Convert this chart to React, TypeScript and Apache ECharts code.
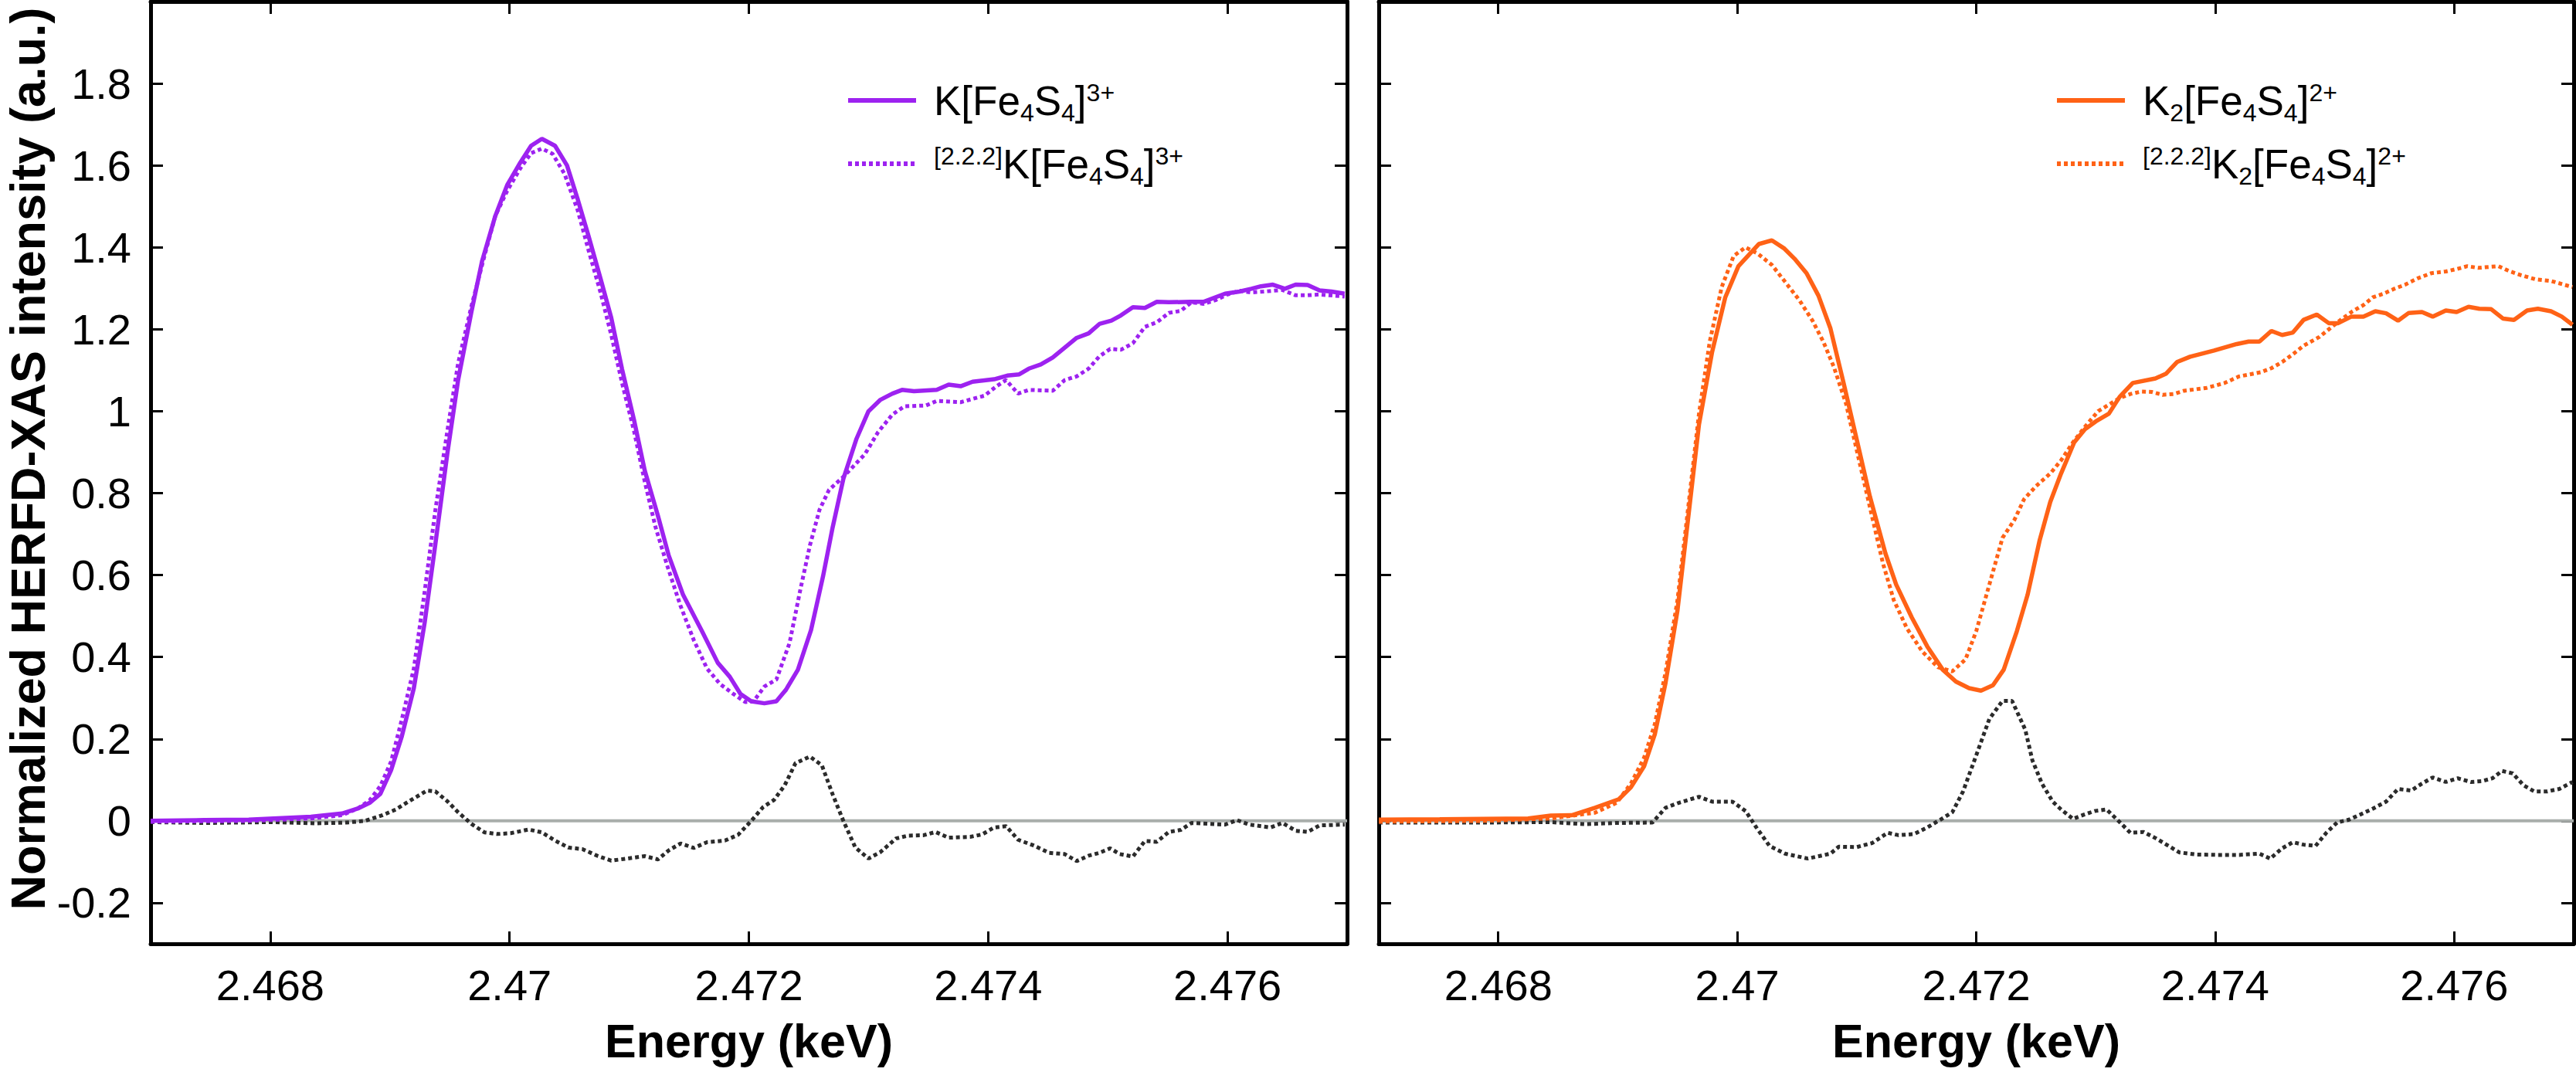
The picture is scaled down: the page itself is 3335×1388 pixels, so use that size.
import React, { useEffect, useRef } from "react";
import * as echarts from "echarts";

// ---------- data ----------
const X_MIN = 2.467;
const X_MAX = 2.477;
const Y_MIN = -0.3;
const Y_MAX = 2.0;
const X_TICKS = [2.468, 2.47, 2.472, 2.474, 2.476];
const Y_TICKS = [-0.2, 0, 0.2, 0.4, 0.6, 0.8, 1, 1.2, 1.4, 1.6, 1.8];

const LEFT_SOLID: [number, number][] = [
  [2.467, 0], [2.46745, 0.002], [2.46782, 0.003], [2.46834, 0.01], [2.4686, 0.018], [2.46873, 0.03],
  [2.46883, 0.044], [2.46892, 0.066], [2.46901, 0.124], [2.4691, 0.207], [2.4692, 0.324], [2.46929, 0.483],
  [2.46938, 0.676], [2.46948, 0.897], [2.46957, 1.076], [2.46968, 1.241], [2.46977, 1.366], [2.46988, 1.476],
  [2.46998, 1.552], [2.47009, 1.607], [2.47018, 1.648], [2.47027, 1.665], [2.47038, 1.648], [2.47048, 1.6],
  [2.47057, 1.517], [2.47066, 1.428], [2.47076, 1.324], [2.47085, 1.228], [2.47094, 1.103], [2.47104, 0.979],
  [2.47113, 0.855], [2.47124, 0.745], [2.47133, 0.648], [2.47145, 0.552], [2.47161, 0.462], [2.47174, 0.386],
  [2.47184, 0.352], [2.47193, 0.31], [2.47202, 0.292], [2.47213, 0.287], [2.47223, 0.292], [2.47231, 0.32],
  [2.47241, 0.369], [2.47252, 0.466], [2.47262, 0.597], [2.4727, 0.716], [2.47279, 0.835], [2.4729, 0.933],
  [2.473, 1.0], [2.4731, 1.028], [2.4732, 1.043], [2.47328, 1.052], [2.47338, 1.049], [2.47357, 1.052],
  [2.47367, 1.065], [2.47377, 1.061], [2.47387, 1.072], [2.47405, 1.078], [2.47416, 1.087], [2.47426, 1.09],
  [2.47434, 1.104], [2.47444, 1.114], [2.47454, 1.131], [2.47464, 1.155], [2.47474, 1.179], [2.47484, 1.19],
  [2.47493, 1.213], [2.47503, 1.221], [2.47511, 1.234], [2.47521, 1.254], [2.47531, 1.252], [2.47541, 1.267],
  [2.47551, 1.266], [2.47569, 1.267], [2.4758, 1.267], [2.47589, 1.277], [2.47598, 1.287], [2.4761, 1.292],
  [2.4762, 1.299], [2.47628, 1.305], [2.47638, 1.309], [2.47648, 1.299], [2.47657, 1.309], [2.47667, 1.308],
  [2.47677, 1.295], [2.47687, 1.292], [2.47698, 1.287],
];

const LEFT_DOTTED: [number, number][] = [
  [2.467, -0.002], [2.46782, 0.0], [2.46834, 0.006], [2.4686, 0.014], [2.46873, 0.03], [2.46883, 0.05],
  [2.46892, 0.085], [2.46901, 0.145], [2.4691, 0.248], [2.4692, 0.372], [2.46929, 0.559], [2.46938, 0.759],
  [2.46948, 0.952], [2.46957, 1.117], [2.46968, 1.255], [2.46979, 1.379], [2.46988, 1.476], [2.46998, 1.538],
  [2.47009, 1.593], [2.47018, 1.63], [2.47027, 1.641], [2.47036, 1.628], [2.47046, 1.579], [2.47057, 1.49],
  [2.47066, 1.393], [2.47076, 1.29], [2.47085, 1.186], [2.47094, 1.069], [2.47104, 0.952], [2.47113, 0.828],
  [2.47122, 0.717], [2.47132, 0.621], [2.47143, 0.524], [2.47154, 0.441], [2.47165, 0.372], [2.47176, 0.334],
  [2.47187, 0.31], [2.47197, 0.29], [2.47204, 0.292], [2.47213, 0.328], [2.47223, 0.345], [2.47234, 0.434],
  [2.47243, 0.564], [2.47251, 0.672], [2.47259, 0.759], [2.47267, 0.808], [2.47279, 0.84], [2.47297, 0.895],
  [2.47308, 0.949], [2.4732, 0.992], [2.4733, 1.012], [2.47348, 1.014], [2.47357, 1.025], [2.47377, 1.022],
  [2.47397, 1.038], [2.47407, 1.061], [2.47415, 1.076], [2.47425, 1.043], [2.47434, 1.052], [2.47454, 1.05],
  [2.47464, 1.076], [2.47474, 1.085], [2.47484, 1.104], [2.47493, 1.134], [2.47502, 1.152], [2.47511, 1.15],
  [2.47521, 1.166], [2.47531, 1.206], [2.47541, 1.217], [2.47551, 1.24], [2.47561, 1.245], [2.4757, 1.266],
  [2.4758, 1.262], [2.4759, 1.271], [2.476, 1.285], [2.4761, 1.294], [2.4762, 1.29], [2.4763, 1.292],
  [2.47646, 1.296], [2.47657, 1.283], [2.47667, 1.283], [2.47677, 1.285], [2.47698, 1.28],
];

const LEFT_DIFF: [number, number][] = [
  [2.467, -0.003], [2.46745, -0.005], [2.46801, -0.003], [2.46838, -0.006], [2.46864, -0.004], [2.46879, 0],
  [2.46894, 0.014], [2.46905, 0.028], [2.46916, 0.048], [2.46931, 0.074], [2.46938, 0.072], [2.46948, 0.048],
  [2.46957, 0.021], [2.46968, -0.007], [2.46979, -0.028], [2.4699, -0.032], [2.47001, -0.03], [2.47016, -0.021],
  [2.47027, -0.028], [2.47038, -0.048], [2.47049, -0.065], [2.47061, -0.069], [2.47074, -0.086], [2.47085, -0.097],
  [2.47098, -0.092], [2.47113, -0.086], [2.47124, -0.094], [2.47133, -0.072], [2.47143, -0.055], [2.47154, -0.066],
  [2.47165, -0.052], [2.4718, -0.048], [2.47191, -0.034], [2.47202, 0], [2.47212, 0.034], [2.47221, 0.051],
  [2.4723, 0.087], [2.47239, 0.141], [2.47251, 0.157], [2.47261, 0.136], [2.4727, 0.065], [2.47279, 0],
  [2.47289, -0.065], [2.473, -0.092], [2.4731, -0.076], [2.47323, -0.043], [2.47333, -0.036], [2.47346, -0.035],
  [2.47356, -0.027], [2.47367, -0.041], [2.47385, -0.039], [2.47395, -0.033], [2.47405, -0.016], [2.47415, -0.013],
  [2.47425, -0.046], [2.47438, -0.06], [2.47451, -0.078], [2.47464, -0.081], [2.47474, -0.098], [2.47484, -0.085],
  [2.47493, -0.078], [2.47502, -0.067], [2.4751, -0.081], [2.47521, -0.087], [2.47531, -0.049], [2.47541, -0.051],
  [2.47551, -0.027], [2.47561, -0.022], [2.4757, -0.005], [2.47598, -0.009], [2.47608, 0.002], [2.47618, -0.009],
  [2.47636, -0.016], [2.47646, -0.005], [2.47657, -0.024], [2.47667, -0.027], [2.47677, -0.011], [2.47698, -0.009],
];

const RIGHT_SOLID: [number, number][] = [
  [2.467, 0.003], [2.46751, 0.004], [2.46825, 0.006], [2.46844, 0.013], [2.46862, 0.014], [2.46881, 0.032],
  [2.46901, 0.053], [2.46911, 0.082], [2.46922, 0.133], [2.46931, 0.211], [2.4694, 0.337], [2.4695, 0.514],
  [2.46959, 0.741], [2.46968, 0.968], [2.46979, 1.145], [2.4699, 1.278], [2.47001, 1.354], [2.47018, 1.408],
  [2.47029, 1.417], [2.47039, 1.398], [2.47048, 1.372], [2.47058, 1.337], [2.47068, 1.282], [2.47078, 1.202],
  [2.47089, 1.069], [2.471, 0.931], [2.47111, 0.792], [2.47124, 0.653], [2.47133, 0.577], [2.47146, 0.497],
  [2.47159, 0.426], [2.47172, 0.369], [2.47183, 0.34], [2.47194, 0.324], [2.47204, 0.318], [2.47214, 0.331],
  [2.47223, 0.369], [2.47234, 0.463], [2.47243, 0.552], [2.47253, 0.684], [2.47262, 0.779], [2.47271, 0.848],
  [2.47282, 0.924], [2.47291, 0.956], [2.473, 0.975], [2.47311, 0.994], [2.4732, 1.035], [2.47331, 1.069],
  [2.4735, 1.08], [2.47359, 1.092], [2.47368, 1.12], [2.47379, 1.133], [2.47399, 1.148], [2.47418, 1.164],
  [2.47428, 1.17], [2.47437, 1.17], [2.47447, 1.196], [2.47456, 1.186], [2.47465, 1.192], [2.47474, 1.223],
  [2.47485, 1.236], [2.47495, 1.215], [2.47503, 1.215], [2.47514, 1.231], [2.47524, 1.231], [2.47534, 1.244],
  [2.47543, 1.239], [2.47553, 1.221], [2.47562, 1.24], [2.47573, 1.242], [2.47582, 1.231], [2.47593, 1.246],
  [2.47602, 1.242], [2.47612, 1.255], [2.47621, 1.25], [2.47631, 1.249], [2.47641, 1.226], [2.4765, 1.223],
  [2.47661, 1.246], [2.4767, 1.25], [2.47681, 1.244], [2.4769, 1.231], [2.47699, 1.211],
];

const RIGHT_DOTTED: [number, number][] = [
  [2.467, -0.002], [2.46788, 0.0], [2.46844, 0.006], [2.46881, 0.02], [2.46899, 0.044], [2.46911, 0.091],
  [2.46922, 0.154], [2.46931, 0.236], [2.4694, 0.362], [2.4695, 0.539], [2.46959, 0.766], [2.46968, 0.994],
  [2.46977, 1.17], [2.46987, 1.303], [2.46997, 1.379], [2.47007, 1.4], [2.47017, 1.385], [2.47029, 1.357],
  [2.4704, 1.316], [2.47052, 1.271], [2.47063, 1.221], [2.47072, 1.17], [2.47081, 1.107], [2.47091, 1.019],
  [2.471, 0.905], [2.47111, 0.766], [2.47122, 0.628], [2.47131, 0.539], [2.47142, 0.47], [2.47155, 0.413],
  [2.47168, 0.375], [2.4718, 0.365], [2.47191, 0.394], [2.472, 0.463], [2.47211, 0.577], [2.47222, 0.691],
  [2.47232, 0.735], [2.4724, 0.785], [2.4725, 0.817], [2.47262, 0.848], [2.47271, 0.88], [2.47281, 0.924],
  [2.47291, 0.962], [2.47302, 1.0], [2.47311, 1.016], [2.4732, 1.032], [2.47329, 1.042], [2.47338, 1.048],
  [2.47347, 1.047], [2.47356, 1.04], [2.47365, 1.042], [2.47374, 1.05], [2.47393, 1.057], [2.47408, 1.069],
  [2.4742, 1.085], [2.47438, 1.095], [2.47447, 1.105], [2.47456, 1.12], [2.47465, 1.139], [2.47474, 1.16],
  [2.47487, 1.181], [2.47496, 1.202], [2.47505, 1.223], [2.47515, 1.244], [2.47524, 1.259], [2.47532, 1.278],
  [2.47541, 1.287], [2.4755, 1.299], [2.47559, 1.309], [2.4757, 1.325], [2.47581, 1.337], [2.47593, 1.341],
  [2.47602, 1.347], [2.47611, 1.354], [2.4762, 1.35], [2.47637, 1.354], [2.47647, 1.341], [2.47656, 1.332],
  [2.47668, 1.322], [2.47681, 1.318], [2.47699, 1.303],
];

const RIGHT_DIFF: [number, number][] = [
  [2.467, -0.004], [2.46788, -0.004], [2.46844, -0.003], [2.46873, -0.008], [2.46899, -0.005], [2.46929, -0.004],
  [2.4694, 0.032], [2.46951, 0.044], [2.46968, 0.059], [2.46979, 0.047], [2.46996, 0.047], [2.47007, 0.024],
  [2.47016, -0.016], [2.47027, -0.061], [2.4704, -0.08], [2.47059, -0.092], [2.47078, -0.08], [2.47085, -0.063],
  [2.471, -0.064], [2.47113, -0.054], [2.47126, -0.029], [2.47135, -0.035], [2.47148, -0.032], [2.47159, -0.016],
  [2.4717, 0.003], [2.4718, 0.021], [2.47189, 0.072], [2.472, 0.16], [2.47211, 0.249], [2.47222, 0.293],
  [2.4723, 0.293], [2.47241, 0.223], [2.47247, 0.148], [2.47255, 0.091], [2.47264, 0.047], [2.47271, 0.028],
  [2.47281, 0.005], [2.4729, 0.015], [2.47299, 0.024], [2.47309, 0.028], [2.47318, 0.003], [2.47329, -0.029],
  [2.4734, -0.027], [2.4735, -0.042], [2.47361, -0.061], [2.4737, -0.077], [2.47384, -0.082], [2.47402, -0.083],
  [2.4742, -0.083], [2.47437, -0.08], [2.47446, -0.092], [2.47456, -0.067], [2.47465, -0.052], [2.47474, -0.058],
  [2.47484, -0.061], [2.47493, -0.029], [2.47502, -0.004], [2.47512, 0.003], [2.47521, 0.015], [2.47532, 0.03],
  [2.47543, 0.047], [2.47553, 0.078], [2.47564, 0.074], [2.47573, 0.091], [2.47582, 0.106], [2.47593, 0.095],
  [2.47603, 0.104], [2.47614, 0.095], [2.47623, 0.097], [2.47632, 0.104], [2.4764, 0.122], [2.47649, 0.116],
  [2.47658, 0.087], [2.47667, 0.072], [2.47678, 0.072], [2.47688, 0.078], [2.47699, 0.095],
];

const ZERO_LINE: [number, number][] = [[X_MIN, 0], [X_MAX, 0]];

const NAME_L1 = "K[Fe4S4]3+";
const NAME_L2 = "[2.2.2]K[Fe4S4]3+";
const NAME_R1 = "K2[Fe4S4]2+";
const NAME_R2 = "[2.2.2]K2[Fe4S4]2+";

const RICH_LABELS: Record<string, string> = {
  [NAME_L1]: "{m|K[Fe}{b|4}{m|S}{b|4}{m|]}{t|3+}",
  [NAME_L2]: "{t|[2.2.2]}{m|K[Fe}{b|4}{m|S}{b|4}{m|]}{t|3+}",
  [NAME_R1]: "{m|K}{b|2}{m|[Fe}{b|4}{m|S}{b|4}{m|]}{t|2+}",
  [NAME_R2]: "{t|[2.2.2]}{m|K}{b|2}{m|[Fe}{b|4}{m|S}{b|4}{m|]}{t|2+}",
};

const X_TITLE = "Energy (keV)";
const Y_TITLE = "Normalized HERFD-XAS intensity (a.u.)";

// ---------- styles ----------
const FONT = '"Liberation Sans", Arial, Helvetica, sans-serif';
const PURPLE = "#9d22f0";
const ORANGE = "#ff6216";
const DIFF_COLOR = "#2b2b2b";
const ZERO_COLOR = "#a9aeab";
const DOT: number[] = [5, 4];

function xFmt(v: number) {
  return Number(v).toFixed(3).replace(/0+$/, "").replace(/\.$/, "");
}
function yFmt(v: number) {
  return String(Number(Number(v).toFixed(1)));
}

const axisLine = { show: true, onZero: false, lineStyle: { color: "#000", width: 5 } };
const tick = (vals: number[]) => ({
  show: true,
  inside: true,
  length: 16,
  customValues: vals,
  lineStyle: { color: "#000", width: 3 },
});

function xAxis(grid: number, pos: "bottom" | "top", labels: boolean) {
  return {
    type: "value",
    gridIndex: grid,
    position: pos,
    min: X_MIN,
    max: X_MAX,
    axisLine,
    axisTick: tick(X_TICKS),
    splitLine: { show: false },
    axisLabel: {
      show: labels,
      customValues: X_TICKS,
      formatter: xFmt,
      fontFamily: FONT,
      fontSize: 56,
      color: "#000",
      margin: 25,
    },
    name: labels ? X_TITLE : "",
    nameLocation: "middle",
    nameGap: 95,
    nameTextStyle: { fontFamily: FONT, fontSize: 61, fontWeight: "bold", color: "#000" },
  };
}

function yAxis(grid: number, pos: "left" | "right", labels: boolean, title: boolean) {
  return {
    type: "value",
    gridIndex: grid,
    position: pos,
    min: Y_MIN,
    max: Y_MAX,
    axisLine,
    axisTick: tick(Y_TICKS),
    splitLine: { show: false },
    axisLabel: {
      show: labels,
      customValues: Y_TICKS,
      formatter: yFmt,
      fontFamily: FONT,
      fontSize: 56,
      color: "#000",
      margin: 25,
    },
    name: title ? Y_TITLE : "",
    nameLocation: "middle",
    nameGap: 128,
    nameTextStyle: { fontFamily: FONT, fontSize: 63, fontWeight: "bold", color: "#000", padding: [0, 0, 0, 36] },
  };
}

function lineSeries(name: string, data: [number, number][], axis: number, color: string, dotted: boolean, width: number, z: number) {
  return {
    type: "line",
    name,
    data,
    xAxisIndex: axis,
    yAxisIndex: axis,
    symbol: "none",
    showSymbol: false,
    smooth: false,
    z,
    lineStyle: { color, width, type: dotted ? DOT : "solid", cap: "butt" },
    itemStyle: { color },
    emphasis: { disabled: true },
    silent: true,
  };
}

const legendRich = {
  m: { fontSize: 53, lineHeight: 64, height: 64, fontFamily: FONT, color: "#000" },
  t: { fontSize: 32, lineHeight: 44, height: 44, verticalAlign: "top", fontFamily: FONT, color: "#000" },
  b: { fontSize: 32, lineHeight: 33, height: 33, verticalAlign: "bottom", fontFamily: FONT, color: "#000" },
};

function legend(names: string[], left: number) {
  return {
    data: names,
    orient: "vertical",
    left,
    top: 98,
    padding: 0,
    itemWidth: 88,
    itemHeight: 20,
    itemGap: 18,
    selectedMode: false,
    itemStyle: { color: "rgba(0,0,0,0)", borderWidth: 0, opacity: 0 },
    lineStyle: { width: 6 },
    formatter: (n: string) => RICH_LABELS[n] || n,
    textStyle: { fontFamily: FONT, color: "#000", padding: [0, 0, 0, 18], rich: legendRich },
  };
}

export default function App() {
  const ref = useRef<HTMLDivElement>(null);
  useEffect(() => {
    if (!ref.current) return;
    const chart = echarts.init(ref.current, undefined, { renderer: "svg" });
    chart.setOption({
      animation: false,
      backgroundColor: "#fff",
      grid: [
        { left: 195, top: 2, width: 1549, height: 1220 },
        { left: 1785, top: 2, width: 1547, height: 1220 },
      ],
      xAxis: [xAxis(0, "bottom", true), xAxis(0, "top", false), xAxis(1, "bottom", true), xAxis(1, "top", false)],
      yAxis: [yAxis(0, "left", true, true), yAxis(0, "right", false, false), yAxis(1, "left", false, false), yAxis(1, "right", false, false)],
      legend: [legend([NAME_L1, NAME_L2], 1095), legend([NAME_R1, NAME_R2], 2660)],
      series: [
        lineSeries("zero-left", ZERO_LINE, 0, ZERO_COLOR, false, 4, 1),
        lineSeries("diff-left", LEFT_DIFF, 0, DIFF_COLOR, true, 5, 2),
        lineSeries(NAME_L2, LEFT_DOTTED, 0, PURPLE, true, 5, 3),
        lineSeries(NAME_L1, LEFT_SOLID, 0, PURPLE, false, 5.5, 4),
        lineSeries("zero-right", ZERO_LINE, 2, ZERO_COLOR, false, 4, 1),
        lineSeries("diff-right", RIGHT_DIFF, 2, DIFF_COLOR, true, 5, 2),
        lineSeries(NAME_R2, RIGHT_DOTTED, 2, ORANGE, true, 5, 3),
        lineSeries(NAME_R1, RIGHT_SOLID, 2, ORANGE, false, 5.5, 4),
      ],
    });
    return () => chart.dispose();
  }, []);
  return (
    <div
      ref={ref}
      style={{ position: "absolute", left: 0, top: 0, width: 3335, height: 1388, background: "#fff" }}
    />
  );
}
